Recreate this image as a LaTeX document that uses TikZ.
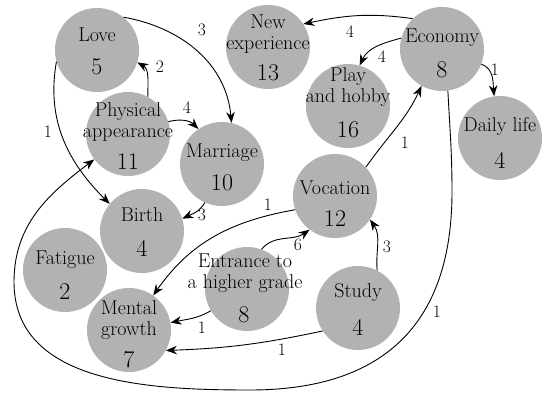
\documentclass[tikz,border=0pt]{standalone}
\usetikzlibrary{arrows.meta}
\tikzset{
  blob/.style={circle, minimum size=84pt, inner sep=0pt, fill=black!30, draw=none},
  word/.style={font=\rmfamily\fontsize{20}{21}\selectfont, align=center, inner sep=0pt},
  num/.style={font=\rmfamily\fontsize{24}{24}\selectfont, inner sep=0pt},
  lbl/.style={font=\rmfamily\fontsize{17.5}{17.5}\selectfont, inner sep=0pt},
  conn/.style={line width=0.9pt, -{Stealth[length=11pt,width=8.5pt]}},
}
\begin{document}
\begin{tikzpicture}[x=1pt,y=1pt]
\useasboundingbox (0,0) rectangle (542,392);
% circles
\node[blob] (love)    at (97,342)  {};
\node[blob] (newx)    at (268,345) {};
\node[blob] (econ)    at (442,343) {};
\node[blob] (phys)    at (128,258) {};
\node[blob] (marr)    at (222,228) {};
\node[blob] (play)    at (348,286) {};
\node[blob] (daily)   at (500,254) {};
\node[blob] (voc)     at (335,196) {};
\node[blob] (birth)   at (142,161) {};
\node[blob] (fatigue) at (65,122)  {};
\node[blob] (mental)  at (129,62)  {};
\node[blob] (entr)    at (247,103) {};
\node[blob] (study)   at (358,84)  {};
% texts
\node[word] (love-w) at (97,357) {Love};
\node[num]  (love-n) at (97,325) {5};
\node[word] (newx-w) at (268,358) {New\\experience};
\node[num]  (newx-n) at (268,319) {13};
\node[word] (econ-w) at (442,354) {Economy};
\node[num]  (econ-n) at (442,322) {8};
\node[word] (phys-w) at (128,269.5) {Physical\\appearance};
\node[num]  (phys-n) at (128,230) {11};
\node[word] (marr-w) at (222,239) {Marriage};
\node[num]  (marr-n) at (222,209) {10};
\node[word] (play-w) at (348,305) {Play\\and hobby};
\node[num]  (play-n) at (348,262) {16};
\node[word] (daily-w) at (500,265) {Daily life};
\node[num]  (daily-n) at (500,232) {4};
\node[word] (voc-w) at (335,204) {Vocation};
\node[num]  (voc-n) at (335,173) {12};
\node[word] (birth-w) at (142,177) {Birth};
\node[num]  (birth-n) at (142,144) {4};
\node[word] (fatigue-w) at (65,132) {Fatigue};
\node[num]  (fatigue-n) at (65,100) {2};
\node[word] (mental-w) at (129,72) {Mental\\growth};
\node[num]  (mental-n) at (129,32) {7};
\node[word] (entr-w) at (245,119) {Entrance to\\a higher grade};
\node[num]  (entr-n) at (244,77) {8};
\node[word] (study-w) at (358,99) {Study};
\node[num]  (study-n) at (358,65) {4};
% connectors
\draw[conn] (love.51) to[out=-10,in=95] (marr.77);
\node[lbl] (l1) at (202,362) {3};
\draw[conn] (phys.62) to[out=90,in=-30] (love.-17);
\node[lbl] (l2) at (160,325) {2};
\draw[conn] (phys.17) to[out=15,in=135] (marr.124);
\node[lbl] (l3) at (187,284) {4};
\draw[conn] (love.196) to[out=-100,in=135] (birth.140);
\node[lbl] (l4) at (48,260) {1};
\draw[conn] (marr.246) to[out=-120,in=25] (birth.17);
\node[lbl] (l5) at (202,177) {3};
\draw[conn] (econ.134) to[out=172,in=12] (newx.33);
\node[lbl] (l6) at (350,360) {4};
\draw[conn] (econ.165) to[out=195,in=65] (play.74);
\node[lbl] (l7) at (382,335) {4};
\draw[conn] (econ.-21) to[out=-20,in=95] (daily.98);
\node[lbl] (l8) at (495,322) {1};
\draw[conn] (voc.43) to[out=55,in=-115] (econ.241);
\node[lbl] (l9) at (405,249) {1};
\coordinate (cr) at (452,200);
\coordinate (cb) at (250,2);
\coordinate (cl) at (14,110);
\draw[conn] (econ.-82) to[out=-87,in=90] (cr) to[out=-90,in=0,looseness=1.2] (cb)
  to[out=180,in=-90] (cl) to[out=90,in=-143] (phys.217);
\node[lbl] (l10) at (437,80) {1};
\draw[conn] (voc.199) to[out=190,in=55] (mental.55);
\node[lbl] (l11) at (268,187) {1};
\draw[conn] (entr.70) to[out=50,in=-145] (voc.233);
\node[lbl] (l12) at (298,147) {6};
\draw[conn] (entr.211) to[out=-150,in=12] (mental.10);
\node[lbl] (l13) at (202,64) {1};
\draw[conn] (study.213) to[out=192,in=2] (mental.-29);
\node[lbl] (l14) at (282,42) {1};
\draw[conn] (study.63) to[out=95,in=-55] (voc.-34);
\node[lbl] (l15) at (387,145) {3};
\end{tikzpicture}
\end{document}
